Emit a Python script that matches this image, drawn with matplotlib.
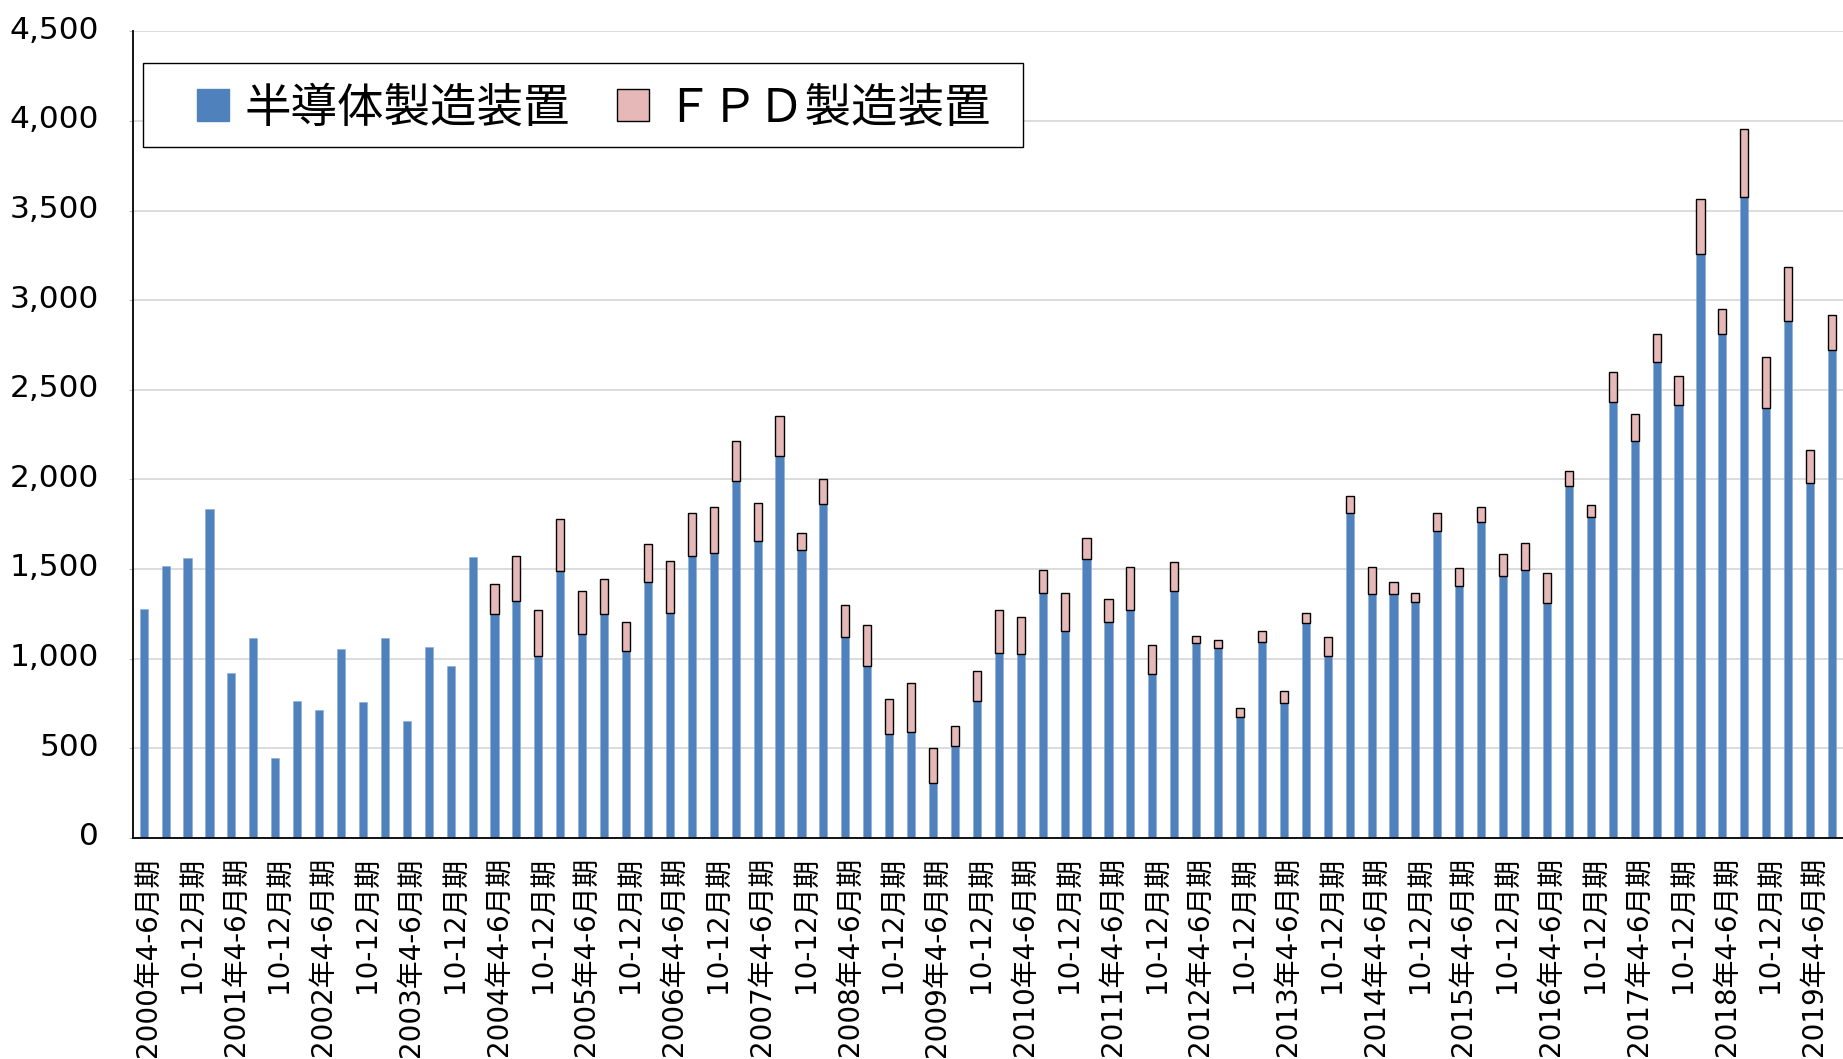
import numpy as np
import matplotlib
matplotlib.use("Agg")
import matplotlib.pyplot as plt
import matplotlib.transforms as mtransforms
from matplotlib.patches import Rectangle, Patch
from matplotlib.ticker import FuncFormatter

# quarterly sales, 2000 Apr-Jun .. 2019 Jul-Sep (78 quarters)
semi = [1276, 1516, 1559, 1832, 917, 1113, 446, 763, 713, 1053,
        755, 1113, 651, 1062, 960, 1566, 1247, 1323, 1016, 1488,
        1136, 1247, 1042, 1427, 1256, 1574, 1589, 1992, 1657, 2130,
        1605, 1864, 1120, 958, 580, 590, 305, 510, 761, 1033,
        1024, 1367, 1152, 1555, 1204, 1272, 913, 1375, 1086, 1059,
        674, 1092, 752, 1198, 1016, 1812, 1360, 1360, 1315, 1711,
        1404, 1764, 1462, 1495, 1311, 1960, 1789, 2432, 2216, 2654,
        2414, 3260, 2809, 3578, 2398, 2884, 1978, 2723]
fpd = [0, 0, 0, 0, 0, 0, 0, 0, 0, 0,
       0, 0, 0, 0, 0, 0, 171, 249, 256, 290,
       240, 197, 162, 214, 290, 238, 256, 222, 212, 221,
       95, 136, 177, 229, 196, 272, 197, 112, 169, 238,
       206, 129, 215, 119, 128, 240, 164, 164, 41, 42,
       51, 61, 68, 58, 102, 95, 152, 65, 52, 103,
       101, 83, 120, 147, 168, 85, 67, 169, 147, 155,
       163, 302, 144, 376, 283, 301, 187, 195]

years = list(range(2000, 2020))
tick_labels = []
for y in years:
    tick_labels.append(f"{y}年4-6月期")
    if y < 2019:
        tick_labels.append("10-12月期")

series_names = ["半導体製造装置", "ＦＰＤ製造装置"]
blue = "#4F81BD"
pink = "#E6B9B8"
jp = ["Noto Sans CJK JP", "DejaVu Sans"]

W, H = 1843, 1059
fig = plt.figure(figsize=(W / 100, H / 100), dpi=100)
ax = fig.add_axes([132.7 / W, 1 - 837.7 / H, 1 - 132.7 / W, (837.7 - 31.3) / H])

x = np.arange(len(semi))
semi = np.array(semi)
fpd = np.array(fpd)
ax.bar(x, semi, width=0.37, color=blue, edgecolor="#8EAADB", linewidth=0.4, zorder=2)
mask = fpd > 0
ax.bar(x[mask], fpd[mask], bottom=semi[mask], width=0.37, color=pink,
       edgecolor="black", linewidth=1.0, zorder=3)

ax.set_xlim(-0.5, len(semi) - 0.5)
ax.set_ylim(0, 4500)
ax.set_yticks(np.arange(0, 4501, 500))
ax.yaxis.set_major_formatter(FuncFormatter(lambda v, p: f"{int(v):,}"))
ax.grid(axis="y", color="#D9D9D9", linewidth=1.3, zorder=0)
ax.set_axisbelow(True)
for s in ["top", "right"]:
    ax.spines[s].set_visible(False)
ax.spines["left"].set_linewidth(1.3)
ax.spines["bottom"].set_linewidth(1.3)

# digits from DejaVu (wide, like the original), kanji fall back to Noto CJK
ax.set_xticks(x[::2])
ax.set_xticklabels(tick_labels, rotation=90, va="top", ha="center",
                   family=["DejaVu Sans", "Noto Sans CJK JP"], fontsize=20)
ax.tick_params(axis="x", length=0, pad=14)
ax.tick_params(axis="y", length=3, color="#BFBFBF", pad=21, labelsize=22.5)

# excel draws the value labels a bit above the gridline
shift = mtransforms.ScaledTranslation(0, 4 / 100, fig.dpi_scale_trans)
for lab in ax.get_yticklabels():
    lab.set_transform(lab.get_transform() + shift)
shift_x = mtransforms.ScaledTranslation(4 / 100, 0, fig.dpi_scale_trans)
for lab in ax.get_xticklabels():
    lab.set_transform(lab.get_transform() + shift_x)

# legend
handles = [Patch(facecolor=blue, edgecolor=blue),
           Patch(facecolor=pink, edgecolor="black", linewidth=1.0)]
leg = fig.legend(handles, series_names, loc="upper left",
                 bbox_to_anchor=(197 / W, 1 - 84 / H), ncol=2, frameon=False,
                 prop={"family": jp, "size": 33.5},
                 handlelength=0.68, handleheight=0.68, handletextpad=0.35,
                 columnspacing=1.0, borderpad=0, borderaxespad=0)
fig.patches.append(Rectangle((142.6 / W, 1 - 146.7 / H), (1022.6 - 142.6) / W,
                             (146.7 - 62.7) / H, transform=fig.transFigure,
                             facecolor="white", edgecolor="black", linewidth=1.0, zorder=4))
leg.set_zorder(5)

fig.savefig("out.png", dpi=100)
